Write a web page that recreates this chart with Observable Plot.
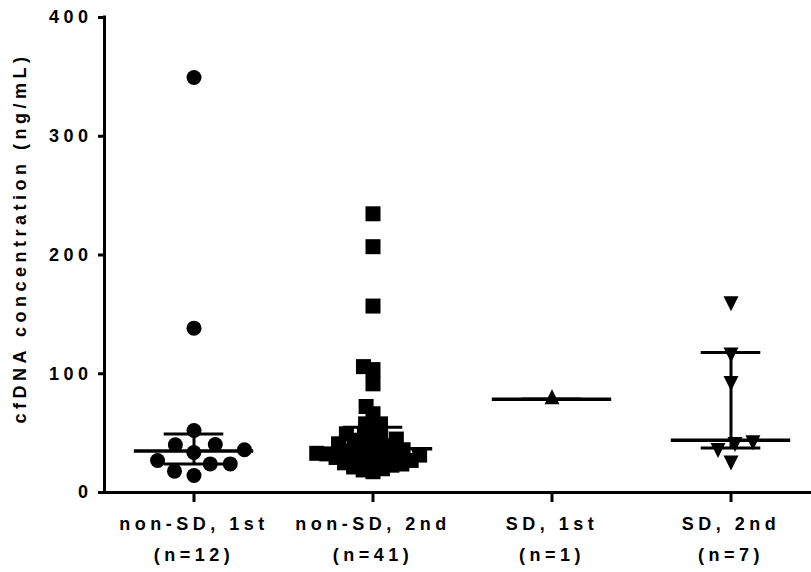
<!DOCTYPE html>
<html>
<head>
<meta charset="utf-8">
<script src="https://cdn.jsdelivr.net/npm/d3@7"></script>
<script src="https://cdn.jsdelivr.net/npm/@observablehq/plot@0.6"></script>
<style>
  html, body { margin: 0; padding: 0; background: #fff; }
  g[aria-label="ytitle"] text { letter-spacing: 8.7px; }
</style>
</head>
<body>
<div id="chart"></div>
<script>
// ---- data ----
const groups = ["non-SD, 1st", "non-SD, 2nd", "SD, 1st", "SD, 2nd"];
const groupN = [12, 41, 1, 7];
const nonSD1st = [14.3, 18, 24.1, 24.1, 27, 33.7, 36, 40.2, 40.4, 52.2, 138.4, 349.5];
const nonSD2nd = [17.5, 19, 20, 21.5, 23, 24, 25, 26, 27, 27.5, 28.5, 29.5, 30, 31, 31.5, 32.5, 33, 34, 35, 36,
                  36.8, 38, 39.5, 41, 42.5, 44, 45, 46.5, 48,
                  49.4, 52.2, 57.8, 57.8, 66.3, 72.4, 91.5, 103.5, 106, 157, 207, 234.7];
const SD1st = [78.5];
const SD2nd = [27, 37.5, 42.5, 44, 94, 118, 161];
const yTicks = [0, 100, 200, 300, 400];
const yTitle = "cfDNA concentration (ng/mL)";

// ---- median with interquartile range (percentile at p*(n+1)) ----
function pct(values, p) {
  const s = d3.sort(values);
  const n = s.length;
  let pos = p * (n + 1);
  pos = Math.max(1, Math.min(n, pos));
  const lo = Math.floor(pos), hi = Math.ceil(pos);
  return s[lo - 1] + (pos - lo) * (s[hi - 1] - s[lo - 1]);
}
const series = [nonSD1st, nonSD2nd, SD1st, SD2nd];
const stats = groups.map((g, i) => ({
  group: g,
  median: pct(series[i], 0.5),
  q1: pct(series[i], 0.25),
  q3: pct(series[i], 0.75)
}));
const rows = (vals, g) => d3.sort(vals).map(v => ({group: g, value: v}));

// ---- symbols ----
const R = 7.5;
const square = {draw(ctx, size) { const r = Math.sqrt(size / Math.PI); ctx.rect(-r, -r, 2 * r, 2 * r); }};
const triUp = {draw(ctx, size) { const r = Math.sqrt(size / Math.PI);
  ctx.moveTo(0, -4 * r / 3); ctx.lineTo(r, 2 * r / 3); ctx.lineTo(-r, 2 * r / 3); ctx.closePath(); }};
const triDown = {draw(ctx, size) { const r = Math.sqrt(size / Math.PI);
  ctx.moveTo(0, 4 * r / 3); ctx.lineTo(r, -2 * r / 3); ctx.lineTo(-r, -2 * r / 3); ctx.closePath(); }};

const dots = (vals, g, symbol, padding) =>
  Plot.dot(rows(vals, g), Plot.dodgeX({anchor: "middle", padding},
    {fx: "group", y: "value", r: R, symbol, fill: "black", stroke: "none"}));

const chart = Plot.plot({
  width: 811,
  height: 572,
  marginTop: 17,
  marginBottom: 80,
  marginLeft: 102,
  marginRight: -10,
  style: {
    fontFamily: "'Liberation Sans', Arial, sans-serif",
    fontWeight: "bold",
    fontSize: "18px",
    letterSpacing: "4.5px",
    color: "black",
    background: "white"
  },
  fx: {domain: groups, padding: 0},
  x: {domain: [-1, 1], axis: null},
  y: {domain: [0, 400]},
  marks: [
    dots(nonSD1st, groups[0], "circle", 5),
    dots(nonSD2nd, groups[1], square, -5),
    dots(SD1st, groups[2], triUp, 0),
    dots(SD2nd, groups[3], triDown, 3),
    Plot.ruleY(stats, {fx: "group", y: "median", x1: -0.667, x2: 0.667, strokeWidth: 3.5}),
    Plot.ruleY(stats, {fx: "group", y: "q1", x1: -0.333, x2: 0.333, strokeWidth: 3}),
    Plot.ruleY(stats, {fx: "group", y: "q3", x1: -0.333, x2: 0.333, strokeWidth: 3}),
    Plot.ruleX(stats, {fx: "group", x: () => 0, y1: "q1", y2: "q3", strokeWidth: 3}),
    Plot.ruleY([0], {strokeWidth: 3}),
    Plot.ruleX([groups[0]], {fx: d => d, x: () => -1, y1: () => 0, y2: () => 400, strokeWidth: 3, strokeLinecap: "square"}),
    Plot.axisY(yTicks, {tickSize: 6, tickPadding: 6, strokeWidth: 3, label: null, tickFormat: d => String(d)}),
    Plot.axisFx({anchor: "bottom", tickSize: 10, tickPadding: 6, strokeWidth: 3, label: null, lineHeight: 1.7,
      tickFormat: d => `${d}\n(n=${groupN[groups.indexOf(d)]})`}),
    Plot.text([yTitle], {fx: () => groups[0], text: d => d, frameAnchor: "left", textAnchor: "middle", rotate: -90,
      dx: -84, dy: -17, ariaLabel: "ytitle"})
  ]
});
document.getElementById("chart").appendChild(chart);
</script>
</body>
</html>
